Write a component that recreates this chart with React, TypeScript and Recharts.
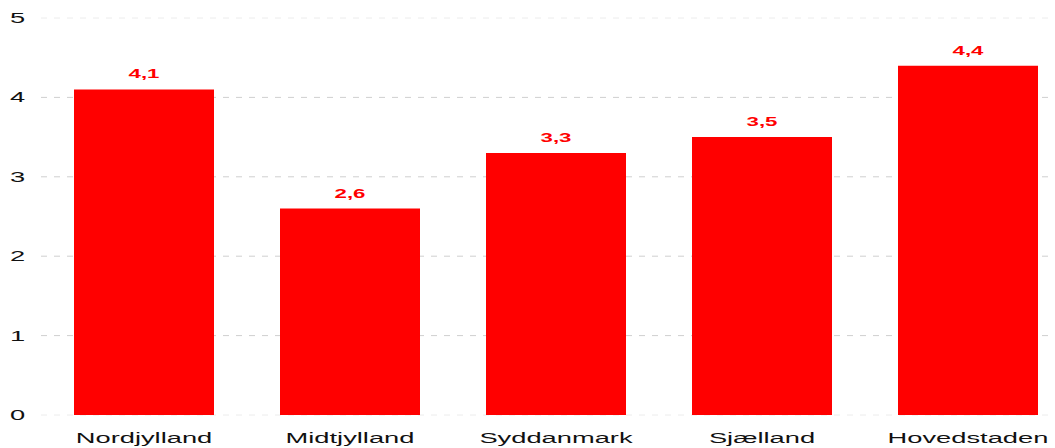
import React from "react";
import { BarChart, Bar, XAxis, YAxis, CartesianGrid, LabelList } from "recharts";

const categories = ["Nordjylland", "Midtjylland", "Syddanmark", "Sjælland", "Hovedstaden"];
const values = [4.1, 2.6, 3.3, 3.5, 4.4];
const yTicks = [0, 1, 2, 3, 4, 5];

const data = categories.map((name, i) => ({ name, value: values[i] }));

const FONT = "'Liberation Sans', Arial, Helvetica, sans-serif";
const SX = 1.82;

const XTick = (props: any) => {
  const { x, y, payload } = props;
  return (
    <g transform={`translate(${x},${y})`}>
      <text transform={`scale(${SX},1)`} textAnchor="middle" dy={20} fontSize={15} fill="#111" fontFamily={FONT}>
        {payload.value}
      </text>
    </g>
  );
};

const YTick = (props: any) => {
  const { y, payload } = props;
  return (
    <g transform={`translate(10,${y})`}>
      <text transform={`scale(${SX},1)`} textAnchor="start" dy={5} fontSize={15} fill="#111" fontFamily={FONT}>
        {payload.value}
      </text>
    </g>
  );
};

const ValueLabel = (props: any) => {
  const { x, y, width, value } = props;
  const cx = x + width / 2;
  return (
    <g transform={`translate(${cx},${y - 11})`}>
      <text transform={`scale(1.65,1)`} textAnchor="middle" fontSize={13.5} fontWeight="bold" fill="#ff0000" fontFamily={FONT}>
        {String(value).replace(".", ",")}
      </text>
    </g>
  );
};

const gridLine = (props: any) => {
  const { x1, x2, y1, y2, index } = props;
  const isEdge = index === 0 || index === yTicks.length - 1;
  return (
    <line
      key={`g-${index}`}
      x1={x1}
      x2={x2 + 40}
      y1={y1}
      y2={y2}
      stroke={isEdge ? "#ececec" : "#cfcfcf"}
      strokeDasharray="6 7"
      strokeWidth={1}
    />
  );
};

export default function App() {
  return (
    <div style={{ position: "fixed", left: 0, top: 0, width: 1055, height: 448, overflow: "hidden", background: "#fff" }}>
      <BarChart width={1080} height={448} data={data} margin={{ top: 18, right: 9, left: 0, bottom: 0 }}>
        <CartesianGrid vertical={false} horizontal={gridLine} />
        <XAxis dataKey="name" axisLine={false} tickLine={false} height={33} tick={<XTick />} interval={0} />
        <YAxis domain={[0, 5]} ticks={yTicks} axisLine={false} tickLine={false} width={41} tick={<YTick />} interval={0} />
        <Bar dataKey="value" fill="#ff0000" barSize={140} isAnimationActive={false}>
          <LabelList dataKey="value" content={<ValueLabel />} />
        </Bar>
      </BarChart>
    </div>
  );
}
